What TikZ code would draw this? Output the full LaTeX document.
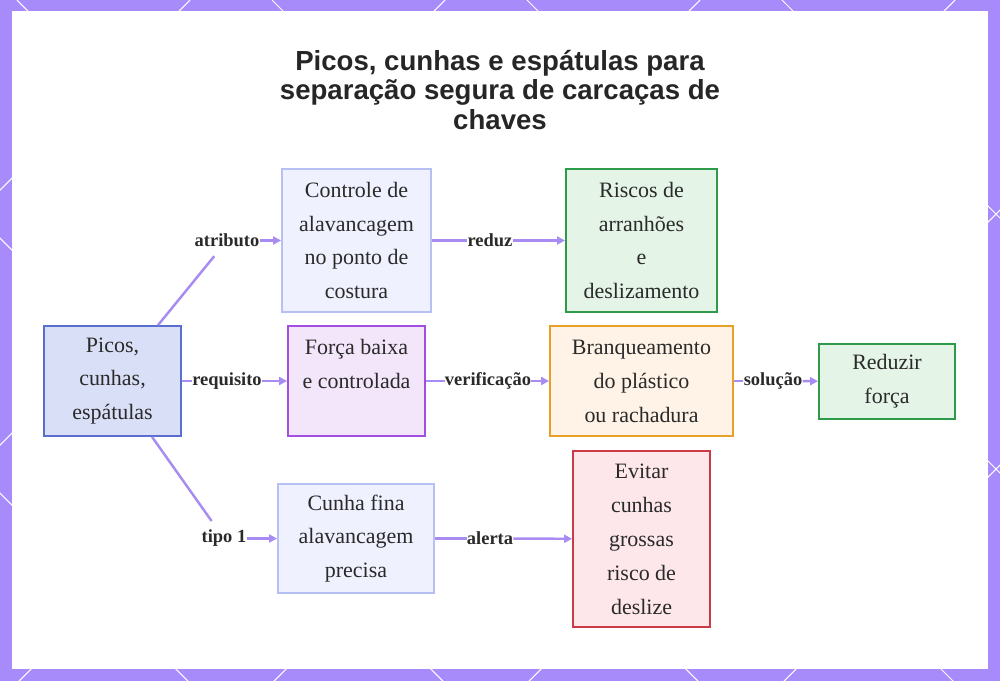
\documentclass[tikz,border=0pt]{standalone}
\usepackage{fontspec}
\setmainfont{Liberation Serif}
\newfontfamily\titlefont{Liberation Sans}
\usetikzlibrary{arrows.meta}
\definecolor{frame}{HTML}{A78BFA}
\definecolor{link}{HTML}{A88CF2}
\definecolor{txt}{HTML}{2A2A2A}
\definecolor{rootfill}{HTML}{DADFF8}\definecolor{rootline}{HTML}{5A6ED0}
\definecolor{paleblue}{HTML}{EFF1FE}\definecolor{paleline}{HTML}{B6C0F5}
\definecolor{greenfill}{HTML}{E4F4E7}\definecolor{greenline}{HTML}{2E9B4A}
\definecolor{violetfill}{HTML}{F3E6FB}\definecolor{violetline}{HTML}{A24EE0}
\definecolor{orangefill}{HTML}{FEF3E6}\definecolor{orangeline}{HTML}{E8A128}
\definecolor{redfill}{HTML}{FDE7EA}\definecolor{redline}{HTML}{CC3A48}

\begin{document}
\begin{tikzpicture}[x=0.02cm,y=-0.02cm,>={Triangle[length=4.5pt,width=4.5pt]},box/.style={draw,line width=1.1pt,align=center,inner sep=0pt,text=txt,font=\fontsize{12.5}{19.3}\selectfont},tag/.style={fill=white,inner xsep=0pt,inner ysep=5pt,text=txt,font=\bfseries\fontsize{10.5}{12}\selectfont},edge/.style={draw=link,line width=1.4pt},arrow/.style={edge,->}]
\useasboundingbox (0,0) rectangle (1000,681);
% frame with diamond lattice
\fill[frame] (0,0) rectangle (1000,681);
\begin{scope}
\clip (0,0) rectangle (1000,681);
\foreach \c in {-748,-493,-238,17,272,527,782} \draw[white,line width=0.6pt] (\c,0) -- ++(681,681);
\foreach \c in {190,445,700,955,1210,1465,1720} \draw[white,line width=0.6pt] (\c,0) -- ++(-681,681);
\end{scope}
\fill[white] (12,11) rectangle (988,669);
\node[align=center,text=black!85,font=\titlefont\bfseries\fontsize{15.7}{17}\selectfont] (title) at (500,90) {Picos, cunhas e espátulas para\\separação segura de carcaças de\\chaves};
% boxes
\node[box,fill=rootfill,draw=rootline,minimum width=2.74cm,minimum height=2.2cm] (root) at (112.5,381) {Picos,\\cunhas,\\espátulas};
\node[box,fill=paleblue,draw=paleline,minimum width=2.98cm,minimum height=2.86cm] (ctrl) at (356.5,240.5) {Controle de\\alavancagem\\no ponto de\\costura};
\node[box,fill=greenfill,draw=greenline,minimum width=3.02cm,minimum height=2.86cm] (risc) at (641.5,240.5) {Riscos de\\arranhões\\e\\deslizamento};
\node[box,fill=violetfill,draw=violetline,minimum width=2.74cm,minimum height=2.2cm] (forca) at (356.5,381) {Força baixa\\e controlada\\\mbox{}};
\node[box,fill=orangefill,draw=orangeline,minimum width=3.66cm,minimum height=2.2cm] (branq) at (641.5,381) {Branqueamento\\do plástico\\ou rachadura};
\node[box,fill=greenfill,draw=greenline,minimum width=2.72cm,minimum height=1.5cm] (reduz) at (887,381.5) {Reduzir\\força};
\node[box,fill=paleblue,draw=paleline,minimum width=3.12cm,minimum height=2.18cm] (cunha) at (356,538.5) {Cunha fina\\alavancagem\\precisa};
\node[box,fill=redfill,draw=redline,minimum width=2.74cm,minimum height=3.52cm] (evit) at (641.5,539) {Evitar\\cunhas\\grossas\\risco de\\deslize};
% edge labels
\node[tag] (atr) at (227,240.5) {atributo};
\node[tag] (req) at (227,381) {requisito};
\node[tag] (tip) at (224,538.5) {tipo 1};
\node[tag] (red) at (490,240.5) {reduz};
\node[tag] (ver) at (488,381) {verificação};
\node[tag] (sol) at (773,381) {solução};
\node[tag] (ale) at (490,538.5) {alerta};
% connectors
\draw[edge] (root) -- (atr); \draw[arrow] (atr) -- (ctrl);
\draw[edge] (root) -- (req); \draw[arrow] (req) -- (forca);
\draw[edge] (root) -- (tip); \draw[arrow] (tip) -- (cunha);
\draw[edge] (ctrl) -- (red); \draw[arrow] (red) -- (risc);
\draw[edge] (forca) -- (ver); \draw[arrow] (ver) -- (branq);
\draw[edge] (branq) -- (sol); \draw[arrow] (sol) -- (reduz);
\draw[edge] (cunha) -- (ale); \draw[arrow] (ale) -- (evit);
\end{tikzpicture}
\end{document}
